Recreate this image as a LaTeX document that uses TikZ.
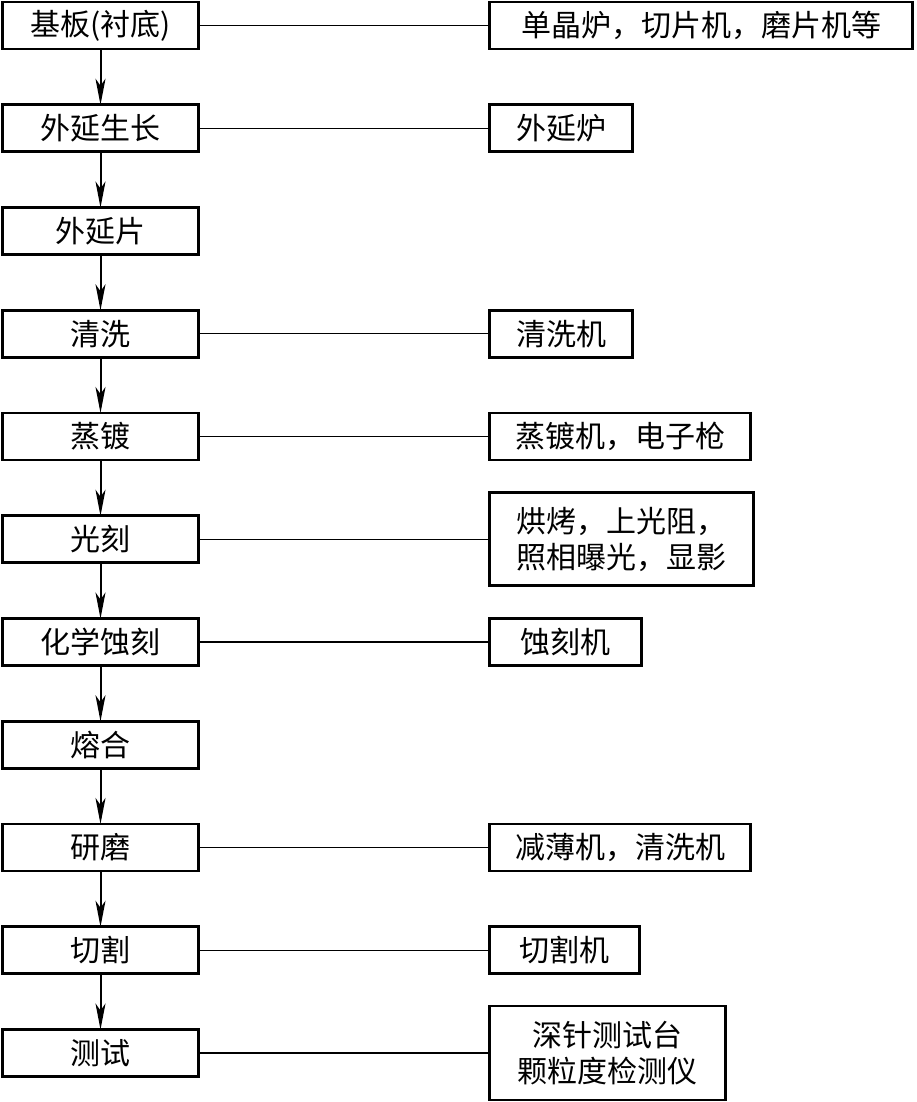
\documentclass[tikz,border=0pt]{standalone}
\usepackage{fontspec}
\newfontfamily\cjk{Noto Sans CJK SC}
\usetikzlibrary{arrows.meta,positioning}

\begin{document}
\begin{tikzpicture}[
    x=1pt, y=-1pt,
    proc/.style={draw, line width=2.6pt, minimum width=196pt, minimum height=47pt, inner sep=0pt, outer sep=0pt, align=center},
    equip/.style={draw, line width=2.6pt, minimum height=47pt, inner sep=0pt, outer sep=0pt, align=center},
    link/.style={line width=1.3pt},
    >={Stealth[length=26pt,width=10pt,inset=7pt]},
    node distance=55.75pt,
    font=\cjk\fontsize{30}{36}\selectfont
]
\useasboundingbox (0,0) rectangle (917,1102);

% process steps
\node[proc] (base) at (100.5,25.5) {基板(衬底)};
\node[proc, below=of base] (epi) {外延生长};
\node[proc, below=of epi] (wafer) {外延片};
\node[proc, below=of wafer] (clean) {清洗};
\node[proc, below=of clean] (evap) {蒸镀};
\node[proc, below=of evap] (litho) {光刻};
\node[proc, below=of litho] (etch) {化学蚀刻};
\node[proc, below=of etch] (fuse) {熔合};
\node[proc, below=of fuse] (grind) {研磨};
\node[proc, below=of grind] (dice) {切割};
\node[proc, below=of dice] (test) {测试};

% equipment
\node[equip, minimum width=423pt, right=291pt of base] (baseeq) {单晶炉，切片机，磨片机等};
\node[equip, minimum width=143pt, right=291pt of epi] (epieq) {外延炉};
\node[equip, minimum width=143pt, right=291pt of clean] (cleaneq) {清洗机};
\node[equip, minimum width=261pt, right=291pt of evap] (evapeq) {蒸镀机，电子枪};
\node[equip, minimum width=264pt, minimum height=93pt, right=291pt of litho] (lithoeq) {烘烤，上光阻，\\照相曝光，显影};
\node[equip, minimum width=152pt, right=291pt of etch] (etcheq) {蚀刻机};
\node[equip, minimum width=261pt, right=291pt of grind] (grindeq) {减薄机，清洗机};
\node[equip, minimum width=150pt, right=291pt of dice] (diceeq) {切割机};
\node[equip, minimum width=236pt, minimum height=94pt, right=291pt of test] (testeq) {深针测试台\\颗粒度检测仪};

\draw[->, line width=2pt] (base) -- (epi);
\draw[->, line width=2pt] (epi) -- (wafer);
\draw[->, line width=2pt] (wafer) -- (clean);
\draw[->, line width=2pt] (clean) -- (evap);
\draw[->, line width=2pt] (evap) -- (litho);
\draw[->, line width=2pt] (litho) -- (etch);
\draw[->, line width=2pt] (etch) -- (fuse);
\draw[->, line width=2pt] (fuse) -- (grind);
\draw[->, line width=2pt] (grind) -- (dice);
\draw[->, line width=2pt] (dice) -- (test);

\draw[link] (base) -- (baseeq);
\draw[link] (epi) -- (epieq);
\draw[link] (clean) -- (cleaneq);
\draw[link] (evap) -- (evapeq);
\draw[link] (litho) -- (lithoeq);
\draw[link] (etch) -- (etcheq);
\draw[link] (grind) -- (grindeq);
\draw[link] (dice) -- (diceeq);
\draw[link] (test) -- (testeq);

\end{tikzpicture}
\end{document}
